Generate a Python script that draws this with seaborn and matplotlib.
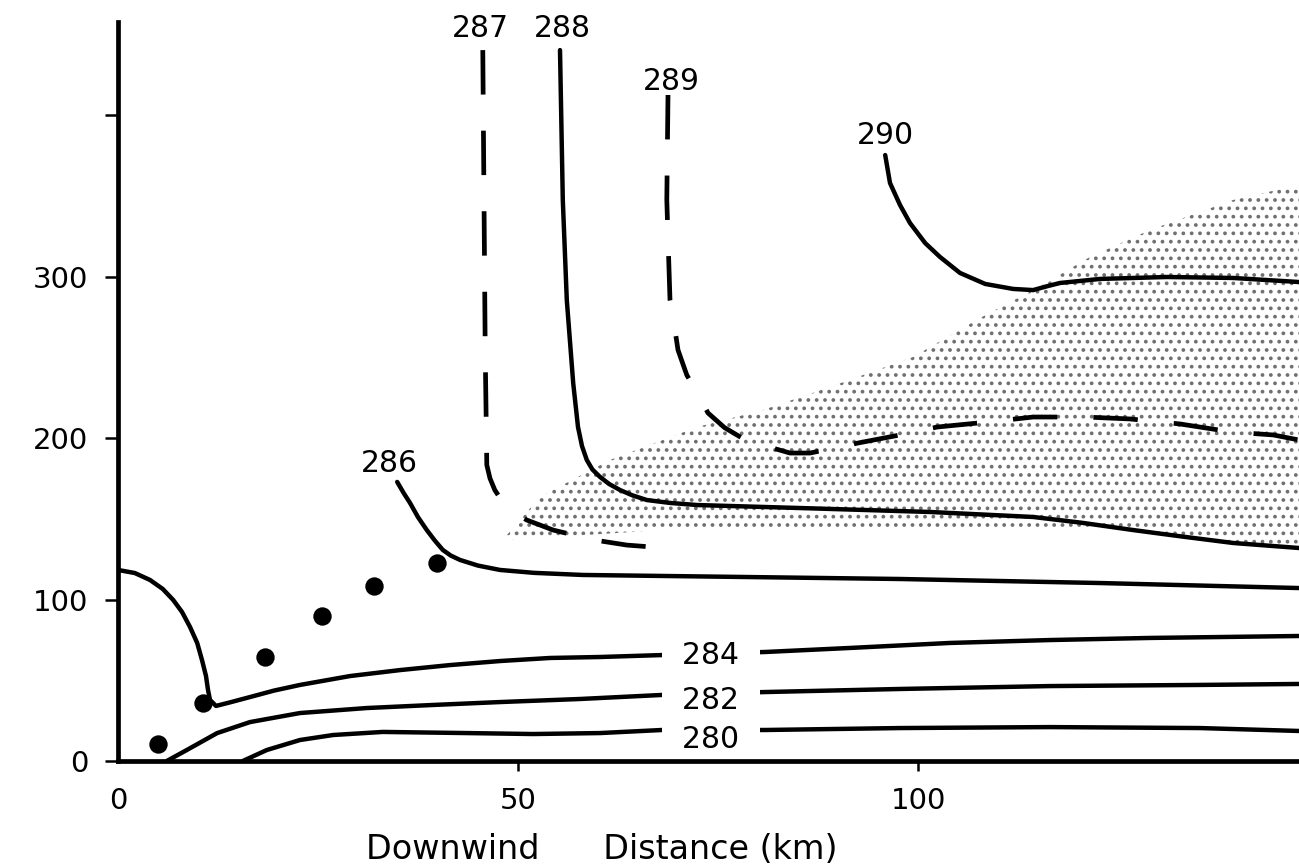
import matplotlib
matplotlib.use("Agg")
import matplotlib.pyplot as plt
import numpy as np
import pandas as pd
import seaborn as sns

# ---------------- data: downwind distance (km) vs height (m) ----------------
# isentropes (potential temperature, K)
x280 = [15.6, 18.6, 22.75, 26.9, 33.1, 43.6, 51.9, 60.25, 68.0, 80.9, 97.75, 116.5, 135.25, 147.6]
y280 = [0.0, 6.8, 13.0, 16.1, 18.0, 17.3, 16.7, 17.3, 19.2, 19.2, 20.4, 21.0, 20.4, 18.6]

x282 = [6.1, 8.6, 12.4, 16.5, 22.75, 31.1, 39.4, 47.75, 57.75, 68.0, 80.9, 97.75, 116.5, 135.25, 147.6]
y282 = [0.0, 6.8, 17.3, 24.1, 29.7, 32.8, 34.7, 36.5, 38.4, 40.9, 42.7, 44.6, 46.4, 47.1, 47.7]

x284 = [0.0, 2.1, 4.0, 5.6, 6.9, 8.0, 9.0, 9.9, 10.5, 11.0, 11.25, 11.5, 12.25, 14.0, 16.5, 19.5,
        22.75, 29.0, 35.25, 41.5, 47.75, 54.0, 60.25, 68.0, 80.9, 91.5, 104.0, 116.5, 129.0, 147.6]
y284 = [118.3, 116.4, 112.1, 106.5, 99.7, 92.3, 83.0, 73.1, 62.5, 52.6, 44.0, 37.8, 34.1, 36.3, 39.6, 43.6,
        47.1, 52.6, 56.3, 59.4, 61.9, 63.8, 64.4, 65.6, 67.5, 70.0, 73.1, 74.9, 76.2, 77.4]

x286 = [34.9, 35.7, 36.5, 37.5, 38.6, 39.6, 40.6, 41.6, 42.75, 45.0, 47.75, 52.0, 58.1, 79.0, 97.75, 122.75, 147.6]
y286 = [172.8, 166.0, 159.8, 151.0, 143.0, 136.5, 130.7, 127.2, 124.5, 121.0, 118.3, 116.5, 115.2, 113.9, 112.7, 110.2, 107.1]

x287 = [45.6, 45.75, 45.9, 46.1, 46.5, 47.1, 48.0, 49.0, 51.1, 54.4, 59.6, 63.6, 68.4]
y287 = [440.2, 347.4, 254.5, 183.3, 175.0, 167.8, 161.0, 155.4, 149.2, 143.0, 136.8, 133.7, 131.9]

x288 = [55.25, 55.6, 56.1, 56.9, 57.5, 58.0, 58.6, 59.3, 60.25, 61.4, 62.75, 64.3, 66.1, 69.0, 72.4,
        84.9, 101.5, 114.4, 120.5, 126.9, 133.0, 139.4, 147.6]
y288 = [440.2, 347.4, 285.4, 234.0, 206.8, 195.0, 186.4, 180.5, 175.9, 171.5, 167.8, 164.5, 161.6, 159.8, 158.5,
        156.7, 154.2, 151.1, 147.5, 143.0, 139.0, 135.0, 131.9]

x289 = [68.75, 68.6, 69.0, 69.4, 70.0, 71.1, 72.4, 73.75, 75.8, 78.0, 80.5, 84.0, 86.5, 89.6, 92.5,
        97.75, 102.4, 108.75, 114.4, 120.9, 126.5, 132.75, 139.25, 144.4, 147.6]
y289 = [412.4, 347.4, 285.4, 274.3, 254.5, 239.0, 227.9, 215.5, 206.5, 200.0, 195.7, 190.7, 190.7, 193.8, 196.9,
        201.9, 206.8, 209.9, 213.0, 213.0, 211.8, 208.7, 203.7, 201.9, 198.8]

x290 = [95.9, 96.5, 97.75, 99.0, 100.9, 102.75, 105.25, 108.4, 111.9, 114.4, 116.0, 117.75, 122.75, 131.1, 139.4, 147.6]
y290 = [375.2, 357.9, 344.3, 333.1, 320.7, 312.1, 302.2, 295.4, 292.3, 291.6, 293.8, 296.0, 298.5, 299.7, 299.1, 296.6]

# stippled region (outline)
stip_x = [48.4, 52.75, 61.5, 72.4, 80.6, 89.0, 99.4, 107.75, 114.4, 121.5, 129.0, 139.4, 147.6,
          147.6, 139.4, 126.9, 114.4, 101.5, 68.1, 48.6]
stip_y = [138.7, 163.5, 186.4, 206.8, 217.3, 231.6, 250.2, 274.3, 291.6, 312.1, 328.8, 347.4, 356.7,
          131.9, 135.0, 143.0, 144.0, 143.0, 143.0, 136.8]

# observation dots
dot_x = [5.0, 10.6, 18.4, 25.5, 32.0, 39.9]
dot_y = [10.5, 35.9, 64.4, 89.8, 108.4, 122.6]

# contour labels
label_text = ["280", "282", "284", "286", "287", "288", "289", "290"]
label_x = [74.1, 74.1, 74.1, 33.9, 45.25, 55.6, 69.2, 95.9]
label_y = [15.2, 39.3, 67.2, 185.8, 455.7, 455.7, 422.6, 389.2]

xticks = [0, 50, 100]
xtick_labels = ["0", "50", "100"]
yticks = [0, 100, 200, 300, 400]
ytick_labels = ["0", "100", "200", "300", ""]

# ---------------- drawing ----------------
sns.set_style("ticks")
plt.rcParams["font.family"] = ["DejaVu Sans"]
plt.rcParams["lines.scale_dashes"] = False
plt.rcParams["lines.solid_joinstyle"] = "round"
plt.rcParams["lines.solid_capstyle"] = "round"
plt.rcParams["hatch.linewidth"] = 1.5
plt.rcParams["hatch.color"] = "#707070"

fig = plt.figure(figsize=(12.99, 8.67), dpi=100)
ax = fig.add_axes([118 / 1299, 106 / 867, 1181 / 1299, 739 / 867])

ax.fill(stip_x, stip_y, facecolor="none", edgecolor="#707070", hatch="..",
        linewidth=0, zorder=1)

for xs, ys in [(x280, y280), (x282, y282), (x284, y284), (x286, y286), (x288, y288), (x290, y290)]:
    sns.lineplot(x=xs, y=ys, sort=False, estimator=None, color="black",
                 linewidth=3.2, ax=ax, zorder=3)

for xs, ys in [(x287, y287), (x289, y289)]:
    sns.lineplot(x=xs, y=ys, sort=False, estimator=None, color="black",
                 linewidth=3.4, linestyle=(0, (32, 26)), ax=ax, zorder=3)

sns.scatterplot(x=dot_x, y=dot_y, s=175, color="black", edgecolor="black",
                linewidth=0, zorder=5, ax=ax)

for t, lx, ly in zip(label_text, label_x, label_y):
    if t in ("280", "282", "284"):
        ax.text(lx, ly, f"  {t}  ", ha="center", va="center_baseline", fontsize=21.5,
                color="black", zorder=4,
                bbox=dict(boxstyle="square,pad=0.05", fc="white", ec="none"))
    else:
        ax.text(lx, ly, t, ha="center", va="center_baseline", fontsize=21.5,
                color="black", zorder=4, clip_on=False)

ax.set_xlim(0, 147.625)
ax.set_ylim(0, 457.6)
ax.set_xticks(xticks, xtick_labels)
ax.set_yticks(yticks, ytick_labels)
sns.despine(ax=ax)
for s in ("left", "bottom"):
    ax.spines[s].set_linewidth(3.4)
    ax.spines[s].set_color("black")
ax.tick_params(axis="both", colors="black", width=1.8, labelsize=21, direction="out")
ax.tick_params(axis="y", length=9.5, pad=12)
ax.tick_params(axis="x", length=7.5, pad=11)
ax.xaxis.get_major_ticks()[0].tick1line.set_visible(False)
ax.set_ylabel("")
ax.set_xlabel("Downwind      Distance (km)", fontsize=24, color="black")
ax.xaxis.set_label_coords(0.4100, -0.0975)

fig.savefig("out.png", dpi=100)
